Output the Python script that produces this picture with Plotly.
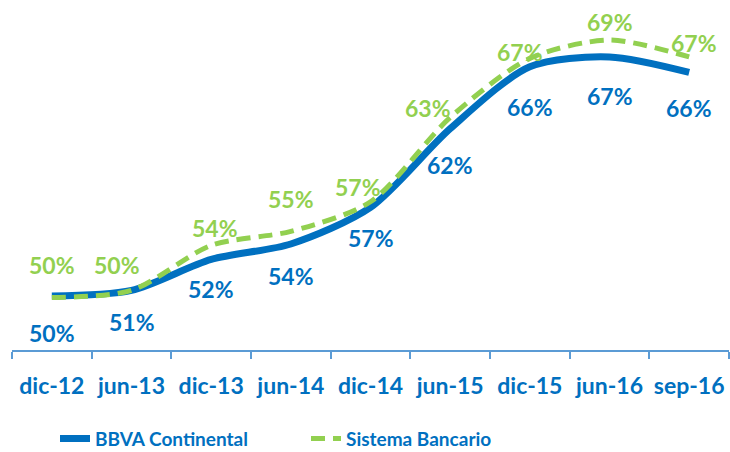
import plotly.graph_objects as go

categories = ["dic-12", "jun-13", "dic-13", "jun-14", "dic-14", "jun-15", "dic-15", "jun-16", "sep-16"]
bbva_values = [50.0, 50.4, 52.6, 53.7, 56.3, 61.9, 66.3, 67.0, 65.9]
sistema_values = [49.9, 50.4, 53.6, 54.6, 56.7, 62.7, 66.9, 68.2, 67.0]
bbva_labels = ["50%", "51%", "52%", "54%", "57%", "62%", "66%", "67%", "66%"]
sistema_labels = ["50%", "50%", "54%", "55%", "57%", "63%", "67%", "69%", "67%"]

BLUE = "#0070C0"
GREEN = "#92D050"
AXIS = "#5B9BD5"
FONT = "Lato"

# label placement tweaks (pixels)
bbva_dy = [-37, -32, -30, -32, -31, -36, -40, -39, -36]
sistema_dy = [32, 25, 17, 32, 15, 9, 6, 18, 14]
sistema_dx = [0, -15, 4, 0, -13, -22, -10, 0, 5]

fig = go.Figure()
fig.add_trace(go.Scatter(
    x=categories, y=bbva_values, name="BBVA Continental", mode="lines",
    line=dict(color=BLUE, width=7, shape="spline", smoothing=0.8),
))
fig.add_trace(go.Scatter(
    x=categories, y=sistema_values, name="Sistema Bancario", mode="lines",
    line=dict(color=GREEN, width=5, shape="spline", smoothing=0.8, dash="14px,8px"),
))

annotations = []
for i, c in enumerate(categories):
    annotations.append(dict(x=c, y=bbva_values[i], xref="x", yref="y", text=bbva_labels[i],
                            showarrow=False, yshift=bbva_dy[i], yanchor="middle",
                            font=dict(family=FONT, size=23, color=BLUE, weight="bold")))
    annotations.append(dict(x=c, y=sistema_values[i], xref="x", yref="y", text=sistema_labels[i],
                            showarrow=False, yshift=sistema_dy[i], xshift=sistema_dx[i], yanchor="middle",
                            font=dict(family=FONT, size=23, color=GREEN, weight="bold")))

fig.update_layout(
    width=730, height=452,
    margin=dict(l=12, r=1, t=10, b=102, autoexpand=False),
    paper_bgcolor="white", plot_bgcolor="white",
    font=dict(family=FONT, color=BLUE),
    annotations=annotations,
    showlegend=True,
    legend=dict(orientation="h", x=(55 - 12) / 717, xanchor="left", y=-0.205, yanchor="top",
                entrywidth=206, entrywidthmode="pixels",
                font=dict(family=FONT, size=19, color=BLUE, weight="bold")),
    xaxis=dict(
        type="category", range=[-0.5, len(categories) - 0.5],
        showline=True, linecolor=AXIS, linewidth=2,
        ticks="outside", tickson="boundaries", ticklen=7, tickcolor=AXIS, tickwidth=2,
        ticklabelstandoff=14, tickangle=0, automargin=False,
        showgrid=False, zeroline=False,
        tickfont=dict(family=FONT, size=23, color=BLUE, weight="bold"),
    ),
    yaxis=dict(range=[46.16, 70.34], visible=False, showgrid=False, zeroline=False),
)

fig.write_html("out.html", config={"displayModeBar": False},
               post_script="document.body.style.margin='0';")
